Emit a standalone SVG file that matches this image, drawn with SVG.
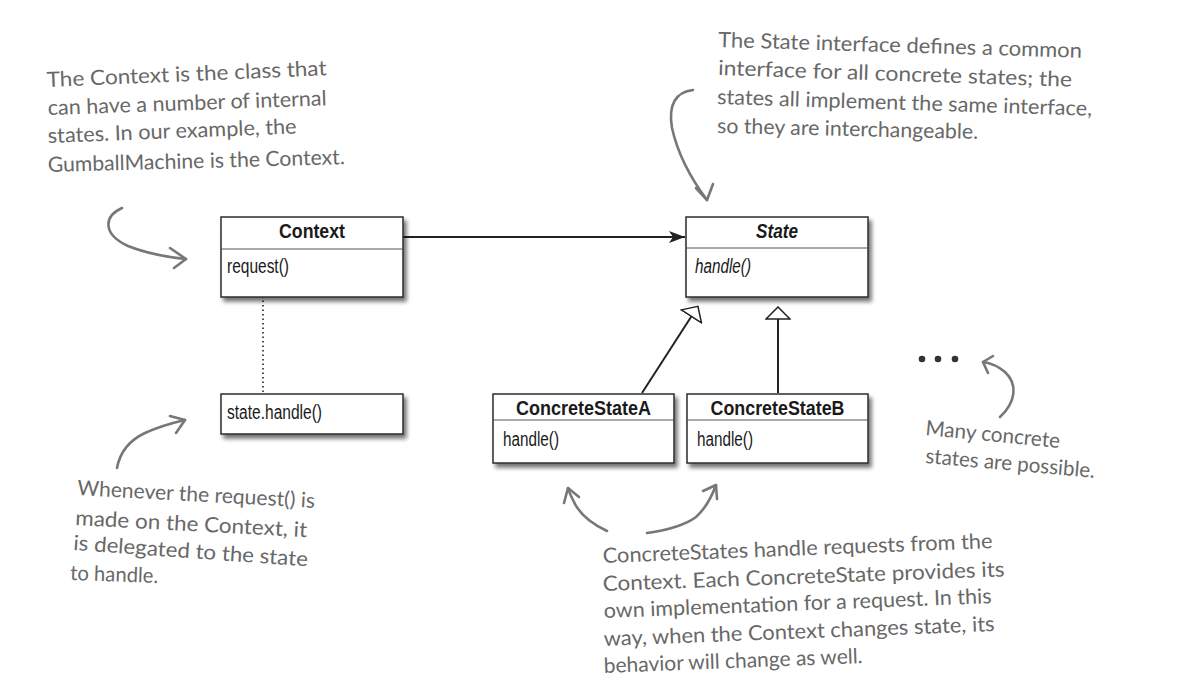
<svg xmlns="http://www.w3.org/2000/svg" width="1178" height="700" viewBox="0 0 1178 700">
<style>
.box{fill:#fff;stroke:#2b2b2b;stroke-width:1.5}
.div{stroke:#555;stroke-width:1}
.title{font-family:"Liberation Sans",Arial,sans-serif;font-weight:bold;font-size:20px;fill:#1a1a1a}
.op{font-family:"Liberation Sans",Arial,sans-serif;font-size:19.5px;fill:#1a1a1a}
.hand{font-family:"Lato","Open Sans",sans-serif;font-size:21px;fill:#686868}
.harrow{fill:none;stroke:#777;stroke-width:2.6;stroke-linecap:round;stroke-linejoin:round}
.conn{fill:none;stroke:#222;stroke-width:2}
</style>
<defs>
<filter id="sh" x="-10%" y="-10%" width="130%" height="150%">
<feDropShadow dx="3" dy="4" stdDeviation="2" flood-color="#000" flood-opacity="0.55"/>
</filter>
<marker id="assoc" markerUnits="userSpaceOnUse" markerWidth="16" markerHeight="12" viewBox="0 0 16 12" refX="16" refY="6" orient="auto">
<path d="M0,0 L16,6 L0,12 L4,6 Z" fill="#222"/>
</marker>
<marker id="gen" markerUnits="userSpaceOnUse" markerWidth="14" markerHeight="26" viewBox="-1 -1 14 26" refX="12" refY="12" orient="auto">
<path d="M0,0 L12,12 L0,24 Z" fill="#fff" stroke="#222" stroke-width="1.5"/>
</marker>
</defs>
<rect width="1178" height="700" fill="#fff"/>

<g id="connectors">
<line class="conn" x1="403" y1="237" x2="685" y2="237" marker-end="url(#assoc)"/>
<line class="conn" x1="642" y1="393" x2="697.9" y2="306.3" marker-end="url(#gen)"/>
<line class="conn" x1="778" y1="393" x2="778" y2="307" marker-end="url(#gen)"/>
<line x1="263" y1="278" x2="263" y2="393" stroke="#222" stroke-width="1.6" stroke-dasharray="1.5,3"/>
</g>

<g id="context">
<rect class="box" x="221" y="217" width="182" height="80" filter="url(#sh)"/>
<line class="div" x1="221" y1="249" x2="403" y2="249"/>
<text class="title" x="312" y="238" text-anchor="middle" textLength="66" lengthAdjust="spacingAndGlyphs">Context</text>
<text class="op" x="227" y="273" textLength="62" lengthAdjust="spacingAndGlyphs">request()</text>
</g>

<g id="state">
<rect class="box" x="686" y="217" width="182" height="80" filter="url(#sh)"/>
<line class="div" x1="686" y1="248" x2="868" y2="248"/>
<text class="title" x="777" y="238" text-anchor="middle" font-style="italic" textLength="42" lengthAdjust="spacingAndGlyphs">State</text>
<text class="op" x="695" y="273" font-style="italic" textLength="56" lengthAdjust="spacingAndGlyphs">handle()</text>
</g>

<g id="note-state-handle">
<rect class="box" x="221" y="394" width="182" height="40" filter="url(#sh)"/>
<text class="op" x="227" y="419" textLength="95" lengthAdjust="spacingAndGlyphs">state.handle()</text>
</g>

<g id="concreteStateA">
<rect class="box" x="493" y="394" width="181" height="69" filter="url(#sh)"/>
<line class="div" x1="493" y1="420" x2="674" y2="420"/>
<text class="title" x="583.5" y="415" text-anchor="middle" textLength="135" lengthAdjust="spacingAndGlyphs">ConcreteStateA</text>
<text class="op" x="503" y="446" textLength="56" lengthAdjust="spacingAndGlyphs">handle()</text>
</g>

<g id="concreteStateB">
<rect class="box" x="687" y="394" width="181" height="69" filter="url(#sh)"/>
<line class="div" x1="687" y1="420" x2="868" y2="420"/>
<text class="title" x="777.5" y="415" text-anchor="middle" textLength="134" lengthAdjust="spacingAndGlyphs">ConcreteStateB</text>
<text class="op" x="697" y="446" textLength="56" lengthAdjust="spacingAndGlyphs">handle()</text>
</g>

<g id="ellipsis">
<circle cx="922" cy="359" r="3.3" fill="#333"/>
<circle cx="938" cy="359" r="3.3" fill="#333"/>
<circle cx="955" cy="359" r="3.3" fill="#333"/>
</g>

<g id="annotation-context">
<text class="hand" x="47" y="87" transform="rotate(-2.4 47 87)" textLength="280" lengthAdjust="spacingAndGlyphs">The Context is the class that</text>
<text class="hand" x="48" y="115" transform="rotate(-2 48 115)" textLength="279" lengthAdjust="spacingAndGlyphs">can have a number of internal</text>
<text class="hand" x="48" y="143" transform="rotate(-2.2 48 143)" textLength="249" lengthAdjust="spacingAndGlyphs">states. In our example, the</text>
<text class="hand" x="48" y="172" transform="rotate(-1.5 48 172)" textLength="297" lengthAdjust="spacingAndGlyphs">GumballMachine is the Context.</text>
<path class="harrow" d="M122,208 C104,216 102,234 128,246 C148,254 166,257 186,259"/>
<path class="harrow" d="M170,248 L186,259 L174,268"/>
</g>

<g id="annotation-state">
<text class="hand" x="718" y="47" transform="rotate(1.7 718 47)" textLength="364" lengthAdjust="spacingAndGlyphs">The State interface defines a common</text>
<text class="hand" x="718" y="75" transform="rotate(1.9 718 75)" textLength="354" lengthAdjust="spacingAndGlyphs">interface for all concrete states; the</text>
<text class="hand" x="717" y="104" transform="rotate(1.8 717 104)" textLength="375" lengthAdjust="spacingAndGlyphs">states all implement the same interface,</text>
<text class="hand" x="717" y="133" transform="rotate(1.3 717 133)" textLength="261" lengthAdjust="spacingAndGlyphs">so they are interchangeable.</text>
<path class="harrow" d="M693,90 C676,92 668,104 672,128 C678,155 692,180 707,200"/>
<path class="harrow" d="M696,188 L707,200 L713,184"/>
</g>

<g id="annotation-delegation">
<text class="hand" x="77" y="495" transform="rotate(3.1 77 495)" textLength="238" lengthAdjust="spacingAndGlyphs">Whenever the request() is</text>
<text class="hand" x="75" y="525" transform="rotate(3 75 525)" textLength="232" lengthAdjust="spacingAndGlyphs">made on the Context, it</text>
<text class="hand" x="73" y="550" transform="rotate(4 73 550)" textLength="235" lengthAdjust="spacingAndGlyphs">is delegated to the state</text>
<text class="hand" x="70" y="580" transform="rotate(2 70 580)" textLength="88" lengthAdjust="spacingAndGlyphs">to handle.</text>
<path class="harrow" d="M117,468 C120,452 130,440 145,433 C158,427 172,423 185,420"/>
<path class="harrow" d="M170,416 L185,420 L176,433"/>
</g>

<g id="annotation-concrete">
<text class="hand" x="603" y="563" transform="rotate(-2.2 603 563)" textLength="390" lengthAdjust="spacingAndGlyphs">ConcreteStates handle requests from the</text>
<text class="hand" x="603" y="591" transform="rotate(-2.1 603 591)" textLength="402" lengthAdjust="spacingAndGlyphs">Context. Each ConcreteState provides its</text>
<text class="hand" x="604" y="618" transform="rotate(-2.2 604 618)" textLength="388" lengthAdjust="spacingAndGlyphs">own implementation for a request. In this</text>
<text class="hand" x="604" y="646" transform="rotate(-2.2 604 646)" textLength="391" lengthAdjust="spacingAndGlyphs">way, when the Context changes state, its</text>
<text class="hand" x="604" y="673" transform="rotate(-2.2 604 673)" textLength="259" lengthAdjust="spacingAndGlyphs">behavior will change as well.</text>
<path class="harrow" d="M607,531 C590,523 578,512 573,500 C571,496 569,492 568,488"/>
<path class="harrow" d="M564,503 L568,488 L579,497"/>
<path class="harrow" d="M647,533 C668,530 684,526 696,517 C706,508 712,496 716,485"/>
<path class="harrow" d="M703,491 L716,485 L717,499"/>
</g>

<g id="annotation-many">
<path class="harrow" d="M1000,417 C1016,402 1018,384 1005,372 C998,366 990,363 983,362"/>
<path class="harrow" d="M993,356 L983,362 L988,373"/>
<text class="hand" x="925" y="435" transform="rotate(5.5 925 435)" textLength="135" lengthAdjust="spacingAndGlyphs">Many concrete</text>
<text class="hand" x="925" y="463" transform="rotate(5 925 463)" textLength="170" lengthAdjust="spacingAndGlyphs">states are possible.</text>
</g>
</svg>
